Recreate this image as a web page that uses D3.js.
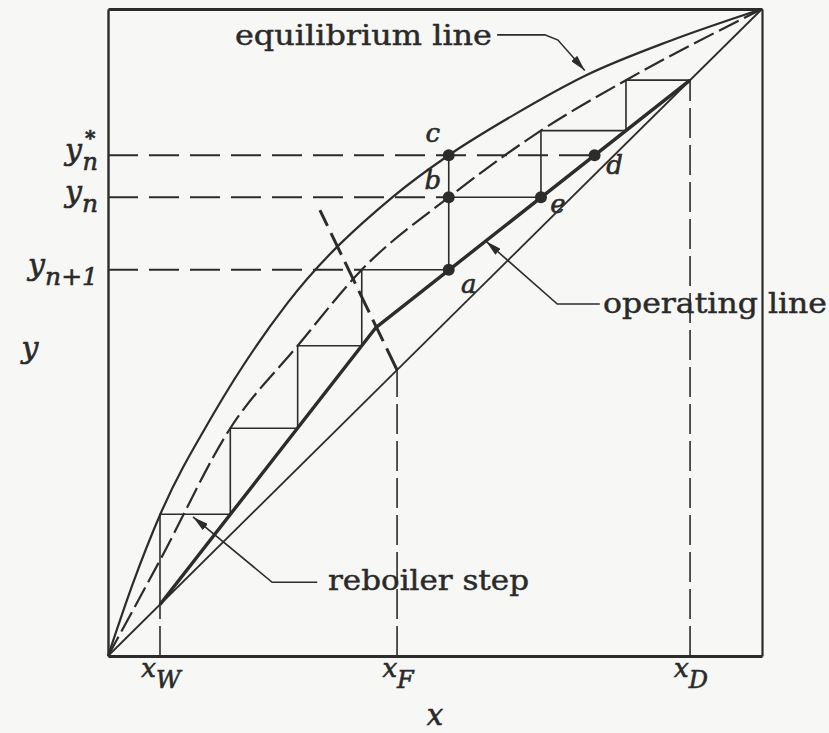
<!DOCTYPE html>
<html>
<head>
<meta charset="utf-8">
<script src="https://cdn.jsdelivr.net/npm/d3@7"></script>
<style>
  html, body { margin: 0; padding: 0; background: #f7f7f5; }
  svg { display: block; }
  text { fill: #2a2a2a; stroke: #2a2a2a; stroke-width: 0.45px; }
  .lbl { font-family: "DejaVu Serif", "Liberation Serif", serif; }
  .math { font-family: "DejaVu Serif", "Liberation Serif", serif; font-style: italic; stroke-width: 0.6px; }
</style>
</head>
<body>
<svg id="chart" width="829" height="733"></svg>
<script>
// Key compositions (mole fraction of the light component)
const xW = 0.0795, xF = 0.442, xD = 0.89;

// Equilibrium curve y*(x)
const eqX = [0, 0.038, 0.0795, 0.16, 0.274, 0.436, 0.521, 0.62, 0.732, 0.86, 1];
const eqY = [0, 0.112, 0.218, 0.372, 0.545, 0.71, 0.774, 0.836, 0.898, 0.951, 1];

// Pseudo-equilibrium curve (actual plate vapour, Murphree efficiency)
const pseudoX = [0, 0.0795, 0.187, 0.29, 0.388, 0.521, 0.662, 0.792, 1];
const pseudoY = [0, 0.148, 0.352, 0.4795, 0.597, 0.709, 0.812, 0.89, 1];

// Operating lines: stripping section, feed intersection, rectifying section
const opX = [xW, 0.41, xD];
const opY = [xW, 0.508, xD];

// q-line through (xF, xF)
const qX = [xF, 0.324];
const qY = [xF, 0.689];

// Plate-by-plate stepping: liquid composition and vapour level of each step
const stageX = [0.792, 0.662, 0.521, 0.388, 0.29, 0.187, xW];
const stageY = [0.89, 0.812, 0.709, 0.597, 0.4795, 0.352, 0.219];

// Marked points on plate n
const pointNames = ["a", "b", "c", "d", "e"];
const pointX = [0.521, 0.521, 0.521, 0.744, 0.662];
const pointY = [0.597, 0.709, 0.774, 0.774, 0.709];

// Axis labels
const xTickValues = [xW, xF, xD];
const xTickSubs = ["W", "F", "D"];
const yTickValues = [0.774, 0.709, 0.597];
const yTickSubs = ["n", "n", "n+1"];
const yTickSups = ["*", "", ""];
const yTickEnds = [0.744, 0.521, 0.388];

const ink = "#2c2c2c";
const svg = d3.select("#chart");
const x = d3.scaleLinear().domain([0, 1]).range([108, 762]);
const y = d3.scaleLinear().domain([0, 1]).range([656, 9]);

const zip = (xs, ys) => xs.map((v, i) => [v, ys[i]]);
const straight = d3.line().x(d => x(d[0])).y(d => y(d[1]));
const smooth = d3.line().curve(d3.curveMonotoneX).x(d => x(d[0])).y(d => y(d[1]));

// arrowheads for the leader lines
svg.append("defs").append("marker")
  .attr("id", "head")
  .attr("viewBox", "0 0 16 8")
  .attr("refX", 16).attr("refY", 4)
  .attr("markerWidth", 16).attr("markerHeight", 8)
  .attr("markerUnits", "userSpaceOnUse")
  .attr("orient", "auto")
  .append("path").attr("d", "M0,0L16,4L0,8Z").attr("fill", ink);

// frame drawn from the four axes
function frame(axis, tx, ty, w) {
  const g = svg.append("g").attr("transform", `translate(${tx},${ty})`)
    .call(axis.tickValues([]).tickSizeOuter(0));
  g.select(".domain").attr("stroke", ink).attr("stroke-width", w);
  return g;
}
frame(d3.axisBottom(x), 0, y(0), 3);
frame(d3.axisTop(x), 0, y(1), 3.2);
frame(d3.axisLeft(y), x(0), 0, 2.4);
frame(d3.axisRight(y), x(1), 0, 2.2);

const plot = svg.append("g").attr("fill", "none").attr("stroke", ink);

// vertical guides at xW, xF, xD
plot.selectAll(".vguide").data(xTickValues).join("line")
  .attr("x1", d => x(d)).attr("x2", d => x(d))
  .attr("y1", y(0)).attr("y2", d => y(d))
  .attr("stroke-width", 1.6).attr("stroke-dasharray", "30 7");

// horizontal guides at y*n, yn, yn+1
plot.selectAll(".hguide").data(yTickValues).join("line")
  .attr("x1", x(0)).attr("x2", (d, i) => x(yTickEnds[i]))
  .attr("y1", d => y(d)).attr("y2", d => y(d))
  .attr("stroke-width", 2).attr("stroke-dasharray", "30 11");

// diagonal y = x
plot.append("path").attr("d", straight([[0, 0], [1, 1]])).attr("stroke-width", 1.8);

// equilibrium curve
plot.append("path").attr("d", smooth(zip(eqX, eqY))).attr("stroke-width", 2.2);

// pseudo-equilibrium curve
plot.append("path").attr("d", smooth(zip(pseudoX, pseudoY)))
  .attr("stroke-width", 2.2).attr("stroke-dasharray", "22 6");

// operating lines
plot.append("path").attr("d", straight(zip(opX, opY)))
  .attr("stroke-width", 3.4).attr("stroke-linejoin", "round");

// q-line
plot.append("path").attr("d", straight(zip(qX, qY)))
  .attr("stroke-width", 3).attr("stroke-dasharray", "24 8");

// staircase of plates, ending with the reboiler step
const steps = [[xD, stageY[0]]];
stageX.forEach((sx, i) => {
  steps.push([sx, stageY[i]]);
  if (i + 1 < stageX.length) steps.push([sx, stageY[i + 1]]);
});
steps.push([xW, xW]);
plot.append("path").attr("d", straight(steps)).attr("stroke-width", 1.6);

// c to b on plate n
plot.append("path").attr("d", straight([[pointX[2], pointY[2]], [pointX[1], pointY[1]]]))
  .attr("stroke-width", 1.6);

// marked points
svg.selectAll(".pt").data(pointNames).join("circle")
  .attr("cx", (d, i) => x(pointX[i])).attr("cy", (d, i) => y(pointY[i]))
  .attr("r", 6).attr("fill", ink);

const labelOffsets = { a: [20, 23], b: [-16, -8], c: [-16, -13], d: [20, 19], e: [17, 16] };
svg.selectAll(".ptlbl").data(pointNames).join("text")
  .attr("class", "math")
  .attr("x", (d, i) => x(pointX[i]) + labelOffsets[d][0])
  .attr("y", (d, i) => y(pointY[i]) + labelOffsets[d][1])
  .attr("text-anchor", "middle")
  .attr("font-size", 26)
  .text(d => d);

// x tick labels
xTickValues.forEach((v, i) => {
  const t = svg.append("text").attr("class", "math")
    .attr("x", x(v) + 1).attr("y", 677).attr("text-anchor", "middle").attr("font-size", 26);
  t.append("tspan").text("x");
  t.append("tspan").attr("dy", 11).attr("font-size", 24).text(xTickSubs[i]);
});

// y tick labels (the star sits above the subscript)
yTickValues.forEach((v, i) => {
  const t = svg.append("text").attr("class", "math")
    .attr("x", 98).attr("y", y(v) + 5).attr("text-anchor", "end").attr("font-size", 30);
  t.append("tspan").text("y");
  if (yTickSups[i]) {
    t.append("tspan").attr("dx", 3).attr("dy", -15).attr("font-size", 20)
      .attr("font-style", "normal").attr("font-weight", "bold").text(yTickSups[i]);
    t.append("tspan").attr("dx", -13).attr("dy", 25).attr("font-size", 24).text(yTickSubs[i]);
  } else {
    t.append("tspan").attr("dy", 10).attr("font-size", 25).text(yTickSubs[i]);
  }
});

// axis titles
svg.append("text").attr("class", "math").attr("x", 435).attr("y", 725)
  .attr("text-anchor", "middle").attr("font-size", 29).text("x");
svg.append("text").attr("class", "math").attr("x", 30).attr("y", 358)
  .attr("text-anchor", "middle").attr("font-size", 30).text("y");

// annotations with leader arrows
const notes = [
  { text: "equilibrium line", tx: 235, ty: 45, len: 257,
    path: [[0.595, 0.96], [0.668, 0.96], [0.688, 0.952], [0.729, 0.905]] },
  { text: "operating line", tx: 603, ty: 313, len: 224,
    path: [[0.752, 0.544], [0.687, 0.544], [0.578, 0.641]] },
  { text: "reboiler step", tx: 328, ty: 590, len: 201,
    path: [[0.32, 0.114], [0.251, 0.114], [0.13, 0.215]] }
];
notes.forEach(n => {
  svg.append("path").attr("d", straight(n.path))
    .attr("fill", "none").attr("stroke", ink).attr("stroke-width", 1.6)
    .attr("marker-end", "url(#head)");
  svg.append("text").attr("class", "lbl")
    .attr("x", n.tx).attr("y", n.ty).attr("font-size", 27)
    .attr("textLength", n.len).attr("lengthAdjust", "spacingAndGlyphs")
    .text(n.text);
});
</script>
</body>
</html>
